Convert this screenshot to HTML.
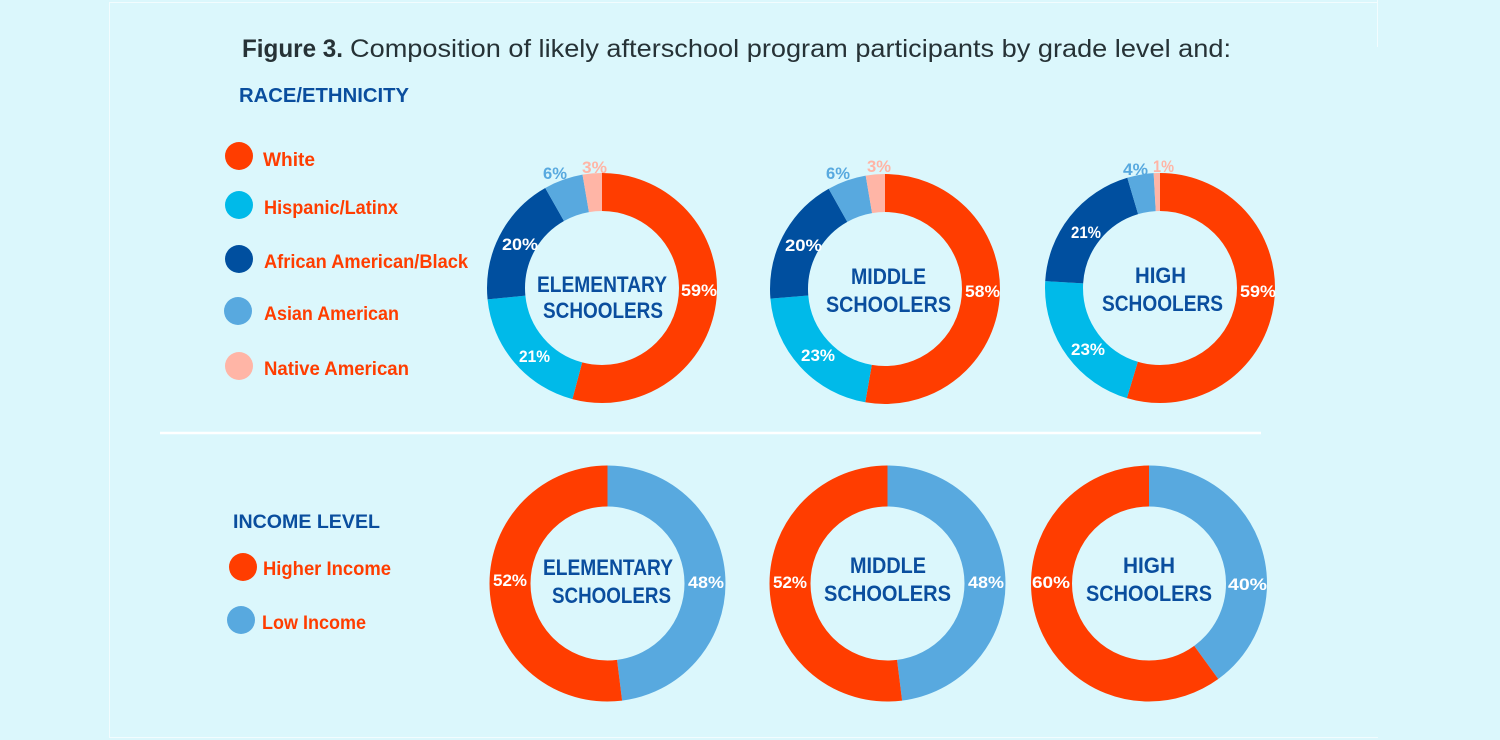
<!DOCTYPE html>
<html>
<head>
<meta charset="utf-8">
<style>
  html, body { margin:0; padding:0; background:#dbf7fc; }
  svg { display:block; }
  text { font-family: "Liberation Sans", sans-serif; }
  .b { font-weight:bold; }
  .ctr { fill:#0a4e9e; font-weight:bold; font-size:22px; }
  .pct { fill:#ffffff; font-weight:bold; font-size:17px; }
  .leg { fill:#ff3d00; font-weight:bold; font-size:19px; }
  .hdr { fill:#0a4e9e; font-weight:bold; font-size:20px; }
</style>
</head>
<body>
<svg width="1500" height="740" viewBox="0 0 1500 740" xmlns="http://www.w3.org/2000/svg">
  <rect x="0" y="0" width="1500" height="740" fill="#dbf7fc"/>
  <!-- faint panel border -->
  <line x1="109.5" y1="2" x2="109.5" y2="738" stroke="#f2fcfe" stroke-width="1"/>
  <line x1="109" y1="2.5" x2="1378" y2="2.5" stroke="#f2fcfe" stroke-width="1"/>
  <line x1="1377.5" y1="0" x2="1377.5" y2="47" stroke="#f2fcfe" stroke-width="1"/>
  <line x1="109" y1="737.5" x2="1378" y2="737.5" stroke="#f2fcfe" stroke-width="1"/>

  <!-- Title -->
  <text x="242" y="57" font-size="25" class="b" fill="#263236" textLength="101" lengthAdjust="spacingAndGlyphs">Figure 3.</text>
  <text x="350" y="57" font-size="25" fill="#263236" textLength="881" lengthAdjust="spacingAndGlyphs">Composition of likely afterschool program participants by grade level and:</text>

  <!-- Race header -->
  <text x="239" y="102" class="hdr" textLength="170" lengthAdjust="spacingAndGlyphs">RACE/ETHNICITY</text>

  <!-- Race legend -->
  <circle cx="239" cy="156" r="14" fill="#ff3d00"/>
  <text x="263" y="166" class="leg" textLength="52" lengthAdjust="spacingAndGlyphs">White</text>
  <circle cx="239" cy="205" r="14" fill="#00bae9"/>
  <text x="264" y="214" class="leg" textLength="134" lengthAdjust="spacingAndGlyphs">Hispanic/Latinx</text>
  <circle cx="239" cy="259" r="14" fill="#004f9f"/>
  <text x="264" y="268" class="leg" textLength="204" lengthAdjust="spacingAndGlyphs">African American/Black</text>
  <circle cx="238" cy="311" r="14" fill="#58a9df"/>
  <text x="264" y="320" class="leg" textLength="135" lengthAdjust="spacingAndGlyphs">Asian American</text>
  <circle cx="239" cy="366" r="14" fill="#ffb5a6"/>
  <text x="264" y="375" class="leg" textLength="145" lengthAdjust="spacingAndGlyphs">Native American</text>

  <!-- Elementary race donut: C = 603.19 -->
  <g transform="rotate(-90 602 288)" fill="none" stroke-width="38">
    <circle cx="602" cy="288" r="96" stroke="#ff3d00" stroke-dasharray="326.49 603.19" stroke-dashoffset="0"/>
    <circle cx="602" cy="288" r="96" stroke="#00bae9" stroke-dasharray="116.21 603.19" stroke-dashoffset="-326.49"/>
    <circle cx="602" cy="288" r="96" stroke="#004f9f" stroke-dasharray="110.68 603.19" stroke-dashoffset="-442.70"/>
    <circle cx="602" cy="288" r="96" stroke="#58a9df" stroke-dasharray="33.20 603.19" stroke-dashoffset="-553.38"/>
    <circle cx="602" cy="288" r="96" stroke="#ffb5a6" stroke-dasharray="16.61 603.19" stroke-dashoffset="-586.58"/>
  </g>
  <text x="537" y="292" class="ctr" textLength="130" lengthAdjust="spacingAndGlyphs">ELEMENTARY</text>
  <text x="543" y="318" class="ctr" textLength="120" lengthAdjust="spacingAndGlyphs">SCHOOLERS</text>
  <text x="681" y="296" class="pct" textLength="36" lengthAdjust="spacingAndGlyphs">59%</text>
  <text x="519" y="362" class="pct" textLength="31" lengthAdjust="spacingAndGlyphs">21%</text>
  <text x="502" y="250" class="pct" textLength="36" lengthAdjust="spacingAndGlyphs">20%</text>
  <text x="543" y="179" class="pct" fill="#58a9df" style="fill:#58a9df" textLength="24" lengthAdjust="spacingAndGlyphs">6%</text>
  <text x="582" y="173" class="pct" style="fill:#ffb5a6" textLength="25" lengthAdjust="spacingAndGlyphs">3%</text>

  <!-- Middle race donut -->
  <g transform="rotate(-90 885 289)" fill="none" stroke-width="38">
    <circle cx="885" cy="289" r="96" stroke="#ff3d00" stroke-dasharray="318.04 603.19" stroke-dashoffset="0"/>
    <circle cx="885" cy="289" r="96" stroke="#00bae9" stroke-dasharray="126.12 603.19" stroke-dashoffset="-318.04"/>
    <circle cx="885" cy="289" r="96" stroke="#004f9f" stroke-dasharray="109.67 603.19" stroke-dashoffset="-444.16"/>
    <circle cx="885" cy="289" r="96" stroke="#58a9df" stroke-dasharray="32.90 603.19" stroke-dashoffset="-553.83"/>
    <circle cx="885" cy="289" r="96" stroke="#ffb5a6" stroke-dasharray="16.46 603.19" stroke-dashoffset="-586.73"/>
  </g>
  <text x="851" y="284" class="ctr" textLength="75" lengthAdjust="spacingAndGlyphs">MIDDLE</text>
  <text x="826" y="312" class="ctr" textLength="125" lengthAdjust="spacingAndGlyphs">SCHOOLERS</text>
  <text x="965" y="297" class="pct" textLength="35" lengthAdjust="spacingAndGlyphs">58%</text>
  <text x="801" y="361" class="pct" textLength="34" lengthAdjust="spacingAndGlyphs">23%</text>
  <text x="785" y="251" class="pct" textLength="37" lengthAdjust="spacingAndGlyphs">20%</text>
  <text x="826" y="179" class="pct" style="fill:#58a9df" textLength="24" lengthAdjust="spacingAndGlyphs">6%</text>
  <text x="867" y="172" class="pct" style="fill:#ffb5a6" textLength="24" lengthAdjust="spacingAndGlyphs">3%</text>

  <!-- High race donut -->
  <g transform="rotate(-90 1160 288)" fill="none" stroke-width="38">
    <circle cx="1160" cy="288" r="96" stroke="#ff3d00" stroke-dasharray="329.52 603.19" stroke-dashoffset="0"/>
    <circle cx="1160" cy="288" r="96" stroke="#00bae9" stroke-dasharray="128.46 603.19" stroke-dashoffset="-329.52"/>
    <circle cx="1160" cy="288" r="96" stroke="#004f9f" stroke-dasharray="117.29 603.19" stroke-dashoffset="-457.98"/>
    <circle cx="1160" cy="288" r="96" stroke="#58a9df" stroke-dasharray="22.34 603.19" stroke-dashoffset="-575.27"/>
    <circle cx="1160" cy="288" r="96" stroke="#ffb5a6" stroke-dasharray="5.59 603.19" stroke-dashoffset="-597.61"/>
  </g>
  <text x="1135" y="283" class="ctr" textLength="51" lengthAdjust="spacingAndGlyphs">HIGH</text>
  <text x="1102" y="311" class="ctr" textLength="121" lengthAdjust="spacingAndGlyphs">SCHOOLERS</text>
  <text x="1240" y="297" class="pct" textLength="36" lengthAdjust="spacingAndGlyphs">59%</text>
  <text x="1071" y="355" class="pct" textLength="34" lengthAdjust="spacingAndGlyphs">23%</text>
  <text x="1071" y="238" class="pct" textLength="30" lengthAdjust="spacingAndGlyphs">21%</text>
  <text x="1123" y="175" class="pct" style="fill:#58a9df" textLength="25" lengthAdjust="spacingAndGlyphs">4%</text>
  <text x="1153" y="172" class="pct" style="fill:#ffb5a6" textLength="21" lengthAdjust="spacingAndGlyphs">1%</text>

  <!-- Divider -->
  <line x1="160" y1="433" x2="1261" y2="433" stroke="#ffffff" stroke-width="2.5"/>

  <!-- Income header & legend -->
  <text x="233" y="528" class="hdr" font-size="19" style="font-size:19px" textLength="147" lengthAdjust="spacingAndGlyphs">INCOME LEVEL</text>
  <circle cx="243" cy="567" r="14" fill="#ff3d00"/>
  <text x="263" y="575" class="leg" textLength="128" lengthAdjust="spacingAndGlyphs">Higher Income</text>
  <circle cx="241" cy="620" r="14" fill="#58a9df"/>
  <text x="262" y="629" class="leg" textLength="104" lengthAdjust="spacingAndGlyphs">Low Income</text>

  <!-- Income donuts: r=97.5, C=612.61 -->
  <g transform="rotate(-90 607.5 583.5)" fill="none" stroke-width="41">
    <circle cx="607.5" cy="583.5" r="97.5" stroke="#58a9df" stroke-dasharray="294.05 612.61" stroke-dashoffset="0"/>
    <circle cx="607.5" cy="583.5" r="97.5" stroke="#ff3d00" stroke-dasharray="318.56 612.61" stroke-dashoffset="-294.05"/>
  </g>
  <text x="543" y="575" class="ctr" textLength="130" lengthAdjust="spacingAndGlyphs">ELEMENTARY</text>
  <text x="552" y="603" class="ctr" textLength="119" lengthAdjust="spacingAndGlyphs">SCHOOLERS</text>
  <text x="493" y="586" class="pct" textLength="34" lengthAdjust="spacingAndGlyphs">52%</text>
  <text x="688" y="588" class="pct" textLength="36" lengthAdjust="spacingAndGlyphs">48%</text>

  <g transform="rotate(-90 887.5 583.5)" fill="none" stroke-width="41">
    <circle cx="887.5" cy="583.5" r="97.5" stroke="#58a9df" stroke-dasharray="294.05 612.61" stroke-dashoffset="0"/>
    <circle cx="887.5" cy="583.5" r="97.5" stroke="#ff3d00" stroke-dasharray="318.56 612.61" stroke-dashoffset="-294.05"/>
  </g>
  <text x="850" y="573" class="ctr" textLength="76" lengthAdjust="spacingAndGlyphs">MIDDLE</text>
  <text x="824" y="601" class="ctr" textLength="127" lengthAdjust="spacingAndGlyphs">SCHOOLERS</text>
  <text x="773" y="588" class="pct" textLength="34" lengthAdjust="spacingAndGlyphs">52%</text>
  <text x="968" y="588" class="pct" textLength="36" lengthAdjust="spacingAndGlyphs">48%</text>

  <g transform="rotate(-90 1149 583.5)" fill="none" stroke-width="41">
    <circle cx="1149" cy="583.5" r="97.5" stroke="#58a9df" stroke-dasharray="245.04 612.61" stroke-dashoffset="0"/>
    <circle cx="1149" cy="583.5" r="97.5" stroke="#ff3d00" stroke-dasharray="367.57 612.61" stroke-dashoffset="-245.04"/>
  </g>
  <text x="1123" y="573" class="ctr" textLength="52" lengthAdjust="spacingAndGlyphs">HIGH</text>
  <text x="1086" y="601" class="ctr" textLength="126" lengthAdjust="spacingAndGlyphs">SCHOOLERS</text>
  <text x="1032" y="588" class="pct" textLength="38" lengthAdjust="spacingAndGlyphs">60%</text>
  <text x="1228" y="590" class="pct" textLength="39" lengthAdjust="spacingAndGlyphs">40%</text>
</svg>
</body>
</html>
